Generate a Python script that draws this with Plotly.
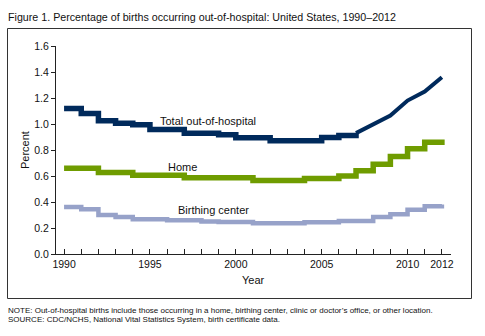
import plotly.graph_objects as go

# ---- data (percent of births) ----
years = list(range(1990, 2013))
total = [1.12, 1.08, 1.025, 1.005, 0.995, 0.957, 0.957, 0.928, 0.928, 0.918, 0.895, 0.895,
         0.872, 0.872, 0.872, 0.897, 0.912, 0.93, 1.00, 1.065, 1.18, 1.25, 1.36]
home = [0.66, 0.66, 0.627, 0.627, 0.605, 0.605, 0.605, 0.586, 0.586, 0.586, 0.586, 0.565,
        0.565, 0.565, 0.58, 0.58, 0.60, 0.64, 0.69, 0.75, 0.81, 0.86, 0.88]
birthing = [0.362, 0.345, 0.30, 0.285, 0.268, 0.268, 0.26, 0.26, 0.25, 0.246, 0.246, 0.236,
            0.236, 0.236, 0.245, 0.245, 0.253, 0.253, 0.285, 0.306, 0.34, 0.367, 0.38]
series_labels = ["Total out-of-hospital", "Home", "Birthing center"]
x_tick_labels = {1990: "1990", 1995: "1995", 2000: "2000", 2005: "2005", 2010: "2010", 2012: "2012"}
y_ticks = [0.0, 0.2, 0.4, 0.6, 0.8, 1.0, 1.2, 1.4, 1.6]

title = "Figure 1. Percentage of births occurring out-of-hospital: United States, 1990\u20132012"
note = "NOTE: Out-of-hospital births include those occurring in a home, birthing center, clinic or doctor\u2019s office, or other location."
source = "SOURCE: CDC/NCHS, National Vital Statistics System, birth certificate data."

NAVY = "#002a5c"
GREEN = "#6f9c00"
LILAC = "#97a2c9"
FONT = "Arial, Liberation Sans, sans-serif"

W, H = 485, 336
L, R, T, B = 56, 34, 46, 82
pw, ph = W - L - R, H - T - B

def px_x(p):
    return (p - L) / pw

def px_y(p):
    return (H - B - p) / ph

fig = go.Figure()
split = years.index(2007)
fig.add_trace(go.Scatter(x=years[:split + 1], y=total[:split + 1], mode="lines",
                         line=dict(color=NAVY, width=5.5, shape="hv"), showlegend=False))
fig.add_trace(go.Scatter(x=years[split:], y=total[split:], mode="lines",
                         line=dict(color=NAVY, width=4), showlegend=False))
fig.add_trace(go.Scatter(x=years, y=home, mode="lines",
                         line=dict(color=GREEN, width=5.5, shape="hv"), showlegend=False))
fig.add_trace(go.Scatter(x=years, y=birthing, mode="lines",
                         line=dict(color=LILAC, width=4.5, shape="hv"), showlegend=False))

lab_font = dict(family=FONT, size=11, color="#111")
fig.add_annotation(x=1998.4, y=1.025, text=series_labels[0], showarrow=False, font=lab_font,
                   xanchor="center", yanchor="middle")
fig.add_annotation(x=1996.9, y=0.667, text=series_labels[1], showarrow=False, font=lab_font,
                   xanchor="center", yanchor="middle")
fig.add_annotation(x=1998.7, y=0.338, text=series_labels[2], showarrow=False, font=lab_font,
                   xanchor="center", yanchor="middle")

# axis titles
fig.add_annotation(xref="paper", yref="paper", x=px_x(25), y=0.5, text="Percent", textangle=-90,
                   xanchor="center", yanchor="middle", showarrow=False, font=lab_font)
fig.add_annotation(xref="paper", yref="paper", x=px_x(253), y=px_y(280), text="Year",
                   xanchor="center", yanchor="middle", showarrow=False, font=lab_font)

# figure title and notes
fig.add_annotation(xref="paper", yref="paper", x=px_x(6), y=px_y(17.5), text=title,
                   xanchor="left", yanchor="middle", showarrow=False,
                   font=dict(family=FONT, size=10.7, color="#111"))
note_font = dict(family=FONT, size=8, color="#111")
fig.add_annotation(xref="paper", yref="paper", x=px_x(6), y=px_y(310.5), text=note,
                   xanchor="left", yanchor="middle", showarrow=False, font=note_font)
fig.add_annotation(xref="paper", yref="paper", x=px_x(6), y=px_y(319.5), text=source,
                   xanchor="left", yanchor="middle", showarrow=False, font=note_font)

# frame
fig.add_shape(type="rect", xref="paper", yref="paper",
              x0=px_x(7.5), x1=px_x(471.5), y0=px_y(298.5), y1=px_y(28.5),
              line=dict(color="#333", width=1))

fig.update_xaxes(range=[1989.53, 2012.53], showline=True, linecolor="#222", linewidth=1,
                 ticks="inside", ticklen=5, tickcolor="#222", tickwidth=1,
                 tickvals=years, ticktext=[x_tick_labels.get(y, "") for y in years],
                 tickfont=dict(family=FONT, size=10.5, color="#111"),
                 showgrid=False, zeroline=False)
fig.update_yaxes(range=[0, 1.6], showline=True, linecolor="#222", linewidth=1,
                 ticks="outside", ticklen=4, tickcolor="#222", tickwidth=1,
                 tickvals=y_ticks, ticktext=[f"{v:.1f}" for v in y_ticks],
                 tickfont=dict(family=FONT, size=10.5, color="#111"),
                 showgrid=False, zeroline=False)

fig.update_layout(width=W, height=H, autosize=False,
                  margin=dict(l=L, r=R, t=T, b=B, pad=0),
                  paper_bgcolor="white", plot_bgcolor="white")

fig.write_html("out.html")
